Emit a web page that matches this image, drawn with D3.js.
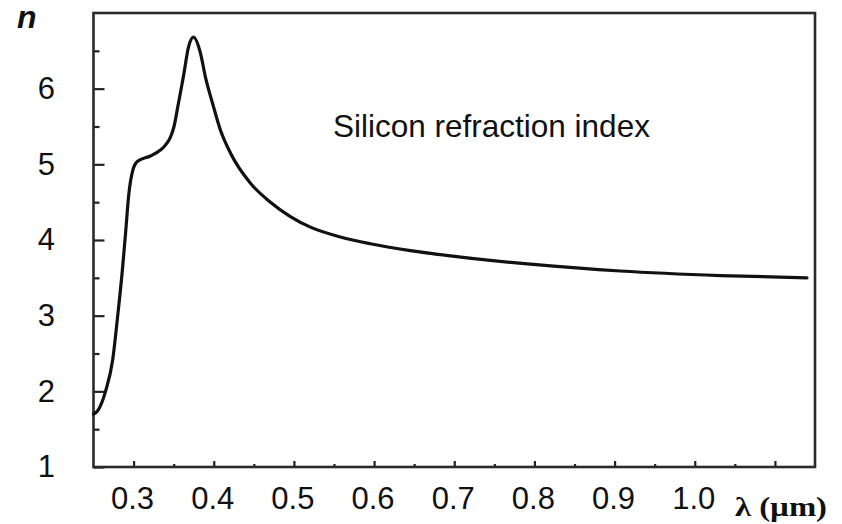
<!DOCTYPE html>
<html>
<head>
<meta charset="utf-8">
<script src="https://cdn.jsdelivr.net/npm/d3@7"></script>
<style>
  html, body { margin: 0; padding: 0; background: #fff; }
  svg { display: block; }
  .lbl { font-family: "Liberation Sans", Arial, sans-serif; fill: #111; }
</style>
</head>
<body>
<svg id="chart" width="842" height="524"></svg>
<script>
// Refractive index of silicon versus wavelength (µm)
const wavelength = [0.250, 0.255, 0.265, 0.274, 0.280, 0.286, 0.290, 0.294, 0.299, 0.305,
  0.321, 0.3335, 0.3377, 0.3502, 0.356, 0.362, 0.3685, 0.3747, 0.3834, 0.3897,
  0.3984, 0.4084, 0.4208, 0.4458, 0.4707, 0.4956, 0.5206, 0.558, 0.5954, 0.6453,
  0.6951, 0.745, 0.7949, 0.907, 1.032, 1.140];
const refractiveIndex = [1.70, 1.74, 2.00, 2.42, 2.98, 3.60, 4.09, 4.60, 4.92, 5.04,
  5.11, 5.19, 5.23, 5.49, 5.81, 6.15, 6.55, 6.68, 6.47, 6.15,
  5.81, 5.45, 5.15, 4.75, 4.50, 4.31, 4.17, 4.04, 3.95, 3.86,
  3.79, 3.73, 3.68, 3.59, 3.53, 3.50];

const yTickValues = [1, 2, 3, 4, 5, 6];
const yMinorValues = [1.5, 2.5, 3.5, 4.5, 5.5, 6.5];
const xTickValues = [0.3, 0.4, 0.5, 0.6, 0.7, 0.8, 0.9, 1.0, 1.1];
const xMinorValues = [0.35, 0.45, 0.55, 0.65, 0.75, 0.85, 0.95, 1.05];
const xTickLabels = ["0.3", "0.4", "0.5", "0.6", "0.7", "0.8", "0.9", "1.0", ""];

const frame = { left: 93.5, right: 815, top: 13, bottom: 467 };

const svg = d3.select("#chart");

const x = d3.scaleLinear().domain([0.25, 1.15]).range([frame.left, frame.right]);
const y = d3.scaleLinear().domain([1, 7]).range([frame.bottom, frame.top]);

// Inward ticks along the left edge
const yAxis = d3.axisRight(y).tickValues(yTickValues).tickSize(11).tickFormat("");
const yAxisMinor = d3.axisRight(y).tickValues(yMinorValues).tickSize(6).tickFormat("");
// Inward ticks along the bottom edge
const xAxis = d3.axisTop(x).tickValues(xTickValues).tickSize(6).tickFormat("");
const xAxisMinor = d3.axisTop(x).tickValues(xMinorValues).tickSize(3).tickFormat("");

function styleAxis(g) {
  g.select(".domain").remove();
  g.selectAll(".tick line").attr("stroke", "#222").attr("stroke-width", 2.2);
}

svg.append("g").attr("transform", `translate(${frame.left},0)`).call(yAxis).call(styleAxis);
svg.append("g").attr("transform", `translate(${frame.left},0)`).call(yAxisMinor).call(styleAxis);
svg.append("g").attr("transform", `translate(0,${frame.bottom})`).call(xAxis).call(styleAxis);
svg.append("g").attr("transform", `translate(0,${frame.bottom})`).call(xAxisMinor).call(styleAxis);

// Plot frame
svg.append("rect")
  .attr("x", frame.left).attr("y", frame.top)
  .attr("width", frame.right - frame.left).attr("height", frame.bottom - frame.top)
  .attr("fill", "none").attr("stroke", "#2a2a2a").attr("stroke-width", 2.6);

// Tick labels
svg.append("g").selectAll("text").data(yTickValues).join("text")
  .attr("class", "lbl")
  .attr("x", 55).attr("y", d => y(d)).attr("dy", "0.33em")
  .attr("text-anchor", "end").attr("font-size", 31)
  .text(d => d);

svg.append("g").selectAll("text").data(xTickValues).join("text")
  .attr("class", "lbl")
  .attr("x", d => x(d) - 1).attr("y", 509)
  .attr("text-anchor", "middle").attr("font-size", 31)
  .text((d, i) => xTickLabels[i]);

// Axis titles
svg.append("text")
  .attr("x", 17).attr("y", 28)
  .attr("font-family", "'Liberation Sans', Arial, sans-serif")
  .attr("font-weight", "bold").attr("font-style", "italic")
  .attr("font-size", 32).attr("fill", "#111")
  .text("n");

svg.append("text")
  .attr("x", 735).attr("y", 516)
  .attr("font-family", "'Liberation Serif', 'Times New Roman', serif")
  .attr("font-weight", "bold").attr("font-size", 27).attr("fill", "#111")
  .attr("textLength", 92).attr("lengthAdjust", "spacingAndGlyphs")
  .text("λ (µm)");

// Annotation
svg.append("text")
  .attr("class", "lbl")
  .attr("x", 333).attr("y", 137)
  .attr("font-size", 31.5)
  .text("Silicon refraction index");

// Dispersion curve
const points = wavelength.map((w, i) => [w, refractiveIndex[i]]);
const line = d3.line()
  .x(d => x(d[0]))
  .y(d => y(d[1]))
  .curve(d3.curveMonotoneX);

svg.append("path")
  .datum(points)
  .attr("d", line)
  .attr("fill", "none")
  .attr("stroke", "#111")
  .attr("stroke-width", 3.2)
  .attr("stroke-linejoin", "round")
  .attr("stroke-linecap", "round");
</script>
</body>
</html>
